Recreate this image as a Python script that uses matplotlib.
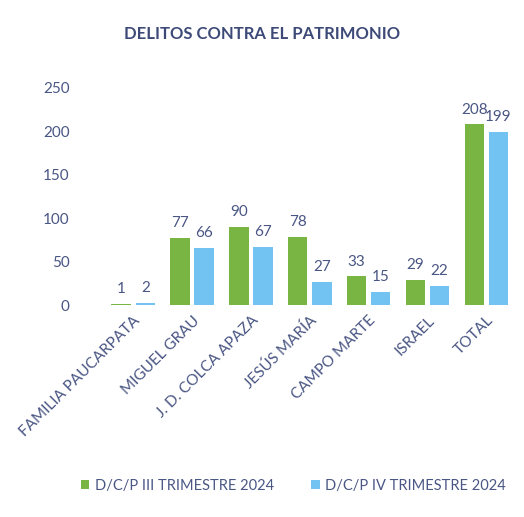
import matplotlib
matplotlib.use("Agg")
import matplotlib.pyplot as plt
import numpy as np

# datos
categorias = ["FAMILIA PAUCARPATA", "MIGUEL GRAU", "J. D. COLCA APAZA", "JESÚS MARÍA",
              "CAMPO MARTE", "ISRAEL", "TOTAL"]
trim_iii = [1, 77, 90, 78, 33, 29, 208]
trim_iv = [2, 66, 67, 27, 15, 22, 199]
series = ["D/C/P III TRIMESTRE 2024", "D/C/P IV TRIMESTRE 2024"]

verde = "#78b543"
azul = "#72c2f2"
texto = "#4a5684"

plt.rcParams["font.family"] = ["Lato", "DejaVu Sans"]

fig = plt.figure(figsize=(5.24, 5.17), dpi=100)
ax = fig.add_axes([0.17, 0.41, 0.82, 0.42])

x = np.arange(len(categorias))
w = 0.33
b1 = ax.bar(x - w / 2 - 0.04, trim_iii, w, color=verde, label=series[0])
b2 = ax.bar(x + w / 2 + 0.04, trim_iv, w, color=azul, label=series[1])

for barras in (b1, b2):
    for b in barras:
        ax.text(b.get_x() + b.get_width() / 2, b.get_height() + 9, str(int(b.get_height())),
                ha="center", va="bottom", fontsize=11, color=texto)

ax.set_ylim(0, 250)
ax.set_xlim(-0.75, len(categorias) - 0.45)
ax.set_yticks(range(0, 251, 50))
ax.tick_params(axis="y", length=0, labelsize=11, labelcolor=texto, pad=14)
ax.tick_params(axis="x", length=0, labelsize=11, labelcolor=texto, pad=6)
ax.set_xticks(x)
ax.set_xticklabels(categorias, rotation=45, ha="right", rotation_mode="anchor")
for s in ax.spines.values():
    s.set_visible(False)

fig.text(0.5, 0.935, "DELITOS CONTRA EL PATRIMONIO", ha="center", va="center",
         fontsize=12, fontweight="bold", color="#3d4a78")

fig.legend(handles=[b1, b2], loc="center", bbox_to_anchor=(0.56, 0.06), ncol=2,
           frameon=False, fontsize=10.5, labelcolor=texto, handlelength=0.6,
           handleheight=0.6, handletextpad=0.4, columnspacing=2.5)

fig.savefig("out.png", dpi=100)
